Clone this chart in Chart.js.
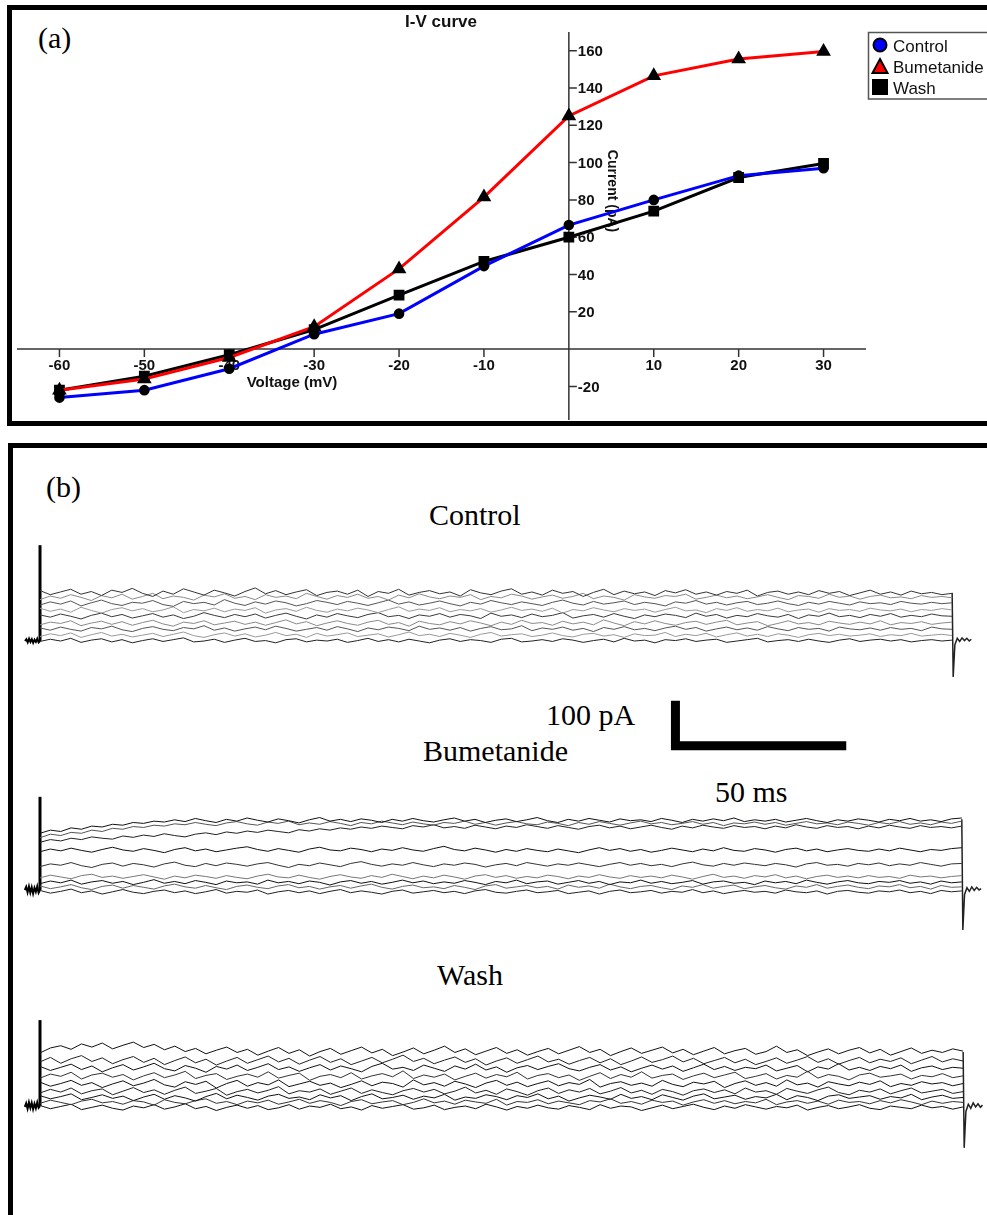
<!DOCTYPE html>
<html>
<head>
<meta charset="utf-8">
<script src="https://cdn.jsdelivr.net/npm/chart.js@4.4.3/dist/chart.umd.min.js"></script>
<style>
  html, body { margin: 0; padding: 0; background: #fff; overflow: hidden; }
  body { position: relative; width: 987px; height: 1215px; }
  .box { position: absolute; border: 5px solid #000; box-sizing: border-box; }
  .lbl { position: absolute; font-family: "Liberation Serif", "Times New Roman", serif; font-size: 30px; line-height: 30px; color: #000; white-space: nowrap; }
  canvas { position: absolute; }
</style>
</head>
<body>
<div class="box" style="left:7px;top:5px;width:1000px;height:421px"></div>
<div class="box" style="left:8px;top:443px;width:1000px;height:800px"></div>

<div class="lbl" style="left:38px;top:23px">(a)</div>
<div class="lbl" style="left:46px;top:472px">(b)</div>
<div class="lbl" style="left:429px;top:500px">Control</div>
<div class="lbl" style="left:546px;top:700px">100 pA</div>
<div class="lbl" style="left:423px;top:736px">Bumetanide</div>
<div class="lbl" style="left:715px;top:777px">50 ms</div>
<div class="lbl" style="left:437px;top:960px">Wash</div>

<canvas id="ivChart" width="987" height="430" style="left:0;top:0"></canvas>
<canvas id="controlTrace" width="975" height="230" style="left:12px;top:530px"></canvas>
<canvas id="bumetTrace" width="975" height="170" style="left:12px;top:780px"></canvas>
<canvas id="washTrace" width="975" height="175" style="left:12px;top:1000px"></canvas>

<script>
// ---- (a) I-V curve ----
const voltages = [-60, -50, -40, -30, -20, -10, 0, 10, 20, 30];
const controlCurrent = [-26, -22, -10.5, 8, 19, 44.5, 66.5, 80, 93, 97];
const bumetanideCurrent = [-22, -16, -4.5, 12, 43, 81.5, 125, 146.5, 155.5, 159.5];
const washCurrent = [-22, -14.5, -3, 10.5, 29, 47, 60, 74, 92, 99.5];
const voltageTickLabels = [-60, -50, -40, -30, -20, -10, 10, 20, 30];
const currentTickLabels = [-20, 20, 40, 60, 80, 100, 120, 140, 160];

// ---- (b) current traces (pA above holding level, sampled every 3 ms) ----
const sampleTimesMs = [
  0,3,6,9,12,15,18,21,24,27,
  30,33,36,39,42,45,48,51,54,57,
  60,63,66,69,72,75,78,81,84,87,
  90,93,96,99,102,105,108,111,114,117,
  120,123,126,129,132,135,138,141,144,147,
  150,153,156,159,162,165,168,171,174,177,
  180,183,186,189,192,195,198,201,204,207,
  210,213,216,219,222,225,228,231,234,237,
  240,243,246,249,252,255,258,261,264,267];
const stubTimesMs = [-4.4, -4, -3.6, -3.2, -2.8, -2.4, -2, -1.6, -1.2, -0.8, -0.4, 0];
const tailTimesMs = [267, 267.3, 267.8, 268.5, 269.2, 269.9, 270.6, 271.3, 272, 272.6];

const controlTraces = [
  [112,103,109,115,104,110,101,113,108,117,
   106,99,111,104,116,109,102,113,107,100,
   110,118,105,112,103,109,114,101,108,111,
   104,113,99,110,106,115,102,108,112,105,
   109,100,114,107,103,111,116,104,109,102,
   113,106,110,99,108,115,103,111,105,109,
   101,112,107,114,104,109,102,110,106,113,
   100,108,111,104,109,103,112,106,110,101,
   107,113,104,109,102,111,105,108,103,106],
  [92,100,95,103,97,90,101,96,104,93,
   99,106,94,100,97,91,102,98,105,95,
   99,92,103,97,100,94,106,99,93,101,
   97,104,95,99,91,102,96,105,98,94,
   100,97,103,92,99,96,104,100,93,98,
   102,95,99,106,94,100,97,91,103,98,
   95,101,99,104,93,97,102,96,100,94,
   98,103,97,92,101,99,95,104,97,100,
   93,99,102,96,98,94,101,97,99,96],
  [80,87,82,89,78,85,91,83,79,86,
   84,90,81,77,88,83,86,80,92,84,
   79,87,82,89,85,78,83,90,86,81,
   88,84,79,85,91,82,87,80,84,89,
   83,78,86,82,90,85,81,87,83,79,
   86,91,84,80,88,82,85,89,81,86,
   83,78,87,84,90,82,86,80,85,88,
   81,84,89,83,79,86,82,88,84,80,
   87,83,85,81,88,84,82,86,83,85],
  [73,66,71,64,75,68,62,70,74,67,
   72,65,69,76,63,70,67,73,65,71,
   68,74,62,69,72,66,75,68,64,71,
   67,73,69,63,70,76,66,71,68,74,
   65,70,67,72,64,69,75,68,71,66,
   73,62,70,67,74,69,65,72,68,71,
   64,70,75,67,69,63,72,68,74,66,
   70,67,73,65,69,71,64,72,68,70,
   66,73,69,67,71,65,70,68,72,69],
  [58,53,60,55,49,57,62,54,59,51,
   56,61,53,58,50,55,63,57,52,59,
   54,60,51,57,62,55,49,58,53,61,
   56,52,59,63,54,57,50,58,55,61,
   53,59,56,50,62,55,58,52,60,54,
   57,63,51,56,59,53,61,55,50,58,
   54,60,57,52,62,55,59,51,57,54,
   61,56,53,59,50,58,55,62,54,57,
   52,59,55,61,53,57,54,60,56,55],
  [36,42,39,45,34,40,44,37,43,35,
   41,46,38,33,42,39,45,36,40,44,
   37,42,35,41,47,38,43,34,40,45,
   39,35,42,46,37,41,33,44,39,36,
   43,38,45,40,34,42,37,46,39,41,
   35,44,38,42,36,47,40,34,43,38,
   45,39,35,41,44,37,42,46,36,40,
   43,34,39,45,38,41,36,44,40,37,
   42,38,45,36,41,39,43,37,40,42],
  [29,24,31,26,22,30,27,33,25,21,
   28,32,26,23,30,27,34,24,29,22,
   27,31,25,33,28,22,26,30,24,32,
   27,21,29,25,31,28,23,33,26,29,
   24,30,22,28,32,25,27,34,23,29,
   26,31,24,28,21,30,26,32,25,28,
   23,29,33,26,30,22,27,31,25,29,
   24,32,27,23,30,26,28,22,31,27,
   25,29,24,30,26,28,23,31,27,26],
  [10,16,12,18,8,14,19,11,15,9,
   13,17,10,15,20,12,8,14,18,11,
   16,9,13,19,12,15,8,17,11,14,
   18,10,13,16,9,14,20,12,15,10,
   17,13,8,15,19,11,14,16,10,13,
   18,12,9,15,17,11,14,8,16,12,
   13,19,10,15,12,17,9,14,18,11,
   15,10,16,13,8,14,17,12,15,11,
   13,16,10,14,12,17,11,13,15,12],
  [-1,4,0,6,-3,2,5,-2,3,-4,
   1,5,-1,3,7,-2,0,4,-3,2,
   6,-1,1,-4,3,5,-2,2,0,4,
   -3,1,6,-1,3,-2,4,0,-4,2,
   5,-1,3,1,-3,4,6,-2,0,3,
   -1,5,2,-3,1,4,-2,6,0,2,
   -4,3,1,5,-1,2,4,-3,0,3,
   6,-2,1,3,-1,4,0,-3,2,5,
   -1,2,4,0,3,-2,1,3,0,2]
];

const bumetTraces = [
  [126,133,130,138,135,142,140,146,144,150,
   148,153,151,156,152,159,154,150,157,153,
   160,155,151,158,154,149,156,161,153,157,
   152,158,155,150,157,153,159,154,151,156,
   160,153,157,150,155,158,152,156,161,154,
   150,157,153,159,155,151,158,154,156,152,
   159,155,150,157,153,158,154,160,152,156,
   153,157,151,155,159,154,150,156,153,158,
   155,151,157,154,159,153,156,152,158,160],
  [116,124,121,128,126,133,130,137,135,141,
   139,144,142,147,145,150,146,143,149,152,
   147,144,151,148,153,145,149,146,152,148,
   143,150,147,153,149,145,151,147,144,150,
   148,153,146,150,144,149,152,147,145,151,
   148,143,150,146,152,148,144,149,153,147,
   150,145,148,152,146,150,143,149,147,151,
   146,150,144,148,152,147,149,145,151,148,
   144,150,147,152,146,149,145,151,148,153],
  [106,112,109,115,112,118,115,113,120,117,
   122,119,125,121,118,124,127,123,129,126,
   131,128,133,130,127,134,131,136,133,138,
   135,140,137,142,139,136,143,140,145,138,
   141,137,144,140,136,142,139,145,141,137,
   143,139,135,141,144,138,142,136,140,144,
   139,135,142,138,144,140,137,143,139,141,
   136,142,138,145,140,137,143,139,141,136,
   142,138,144,140,137,143,139,141,138,142],
  [85,91,87,93,88,84,90,95,89,86,
   92,88,83,90,94,87,91,85,89,93,
   96,90,86,92,88,84,91,95,89,87,
   93,90,85,91,88,94,89,86,92,97,
   90,87,93,89,84,90,86,92,88,85,
   91,87,83,89,94,88,92,86,90,84,
   88,93,89,85,91,87,94,88,86,92,
   89,84,90,93,87,91,85,89,92,88,
   86,91,87,93,89,85,90,88,92,94],
  [52,58,55,61,54,50,57,60,53,59,
   56,51,58,62,55,52,59,54,60,57,
   53,58,61,55,50,57,54,60,56,52,
   59,63,57,53,58,55,61,56,52,58,
   55,60,57,51,56,59,54,61,57,53,
   58,55,60,56,52,57,61,55,59,54,
   57,52,58,62,56,53,59,55,60,57,
   54,59,56,51,58,61,55,57,53,59,
   56,60,54,58,55,61,57,53,58,59],
  [27,33,29,25,32,35,28,31,26,30,
   34,29,24,31,27,33,30,26,32,28,
   25,31,35,29,27,33,28,24,30,34,
   29,26,32,28,35,30,25,31,27,33,
   29,24,31,34,28,32,26,30,27,33,
   30,25,31,28,34,29,26,32,28,31,
   27,33,29,24,30,35,28,31,26,32,
   29,34,27,31,25,30,33,28,31,27,
   32,28,30,26,33,29,31,27,30,32],
  [14,20,16,22,13,18,21,15,19,12,
   17,23,15,19,14,21,17,12,20,16,
   18,13,22,16,19,14,20,17,11,18,
   21,15,19,13,17,22,16,20,14,18,
   15,21,17,12,19,16,22,14,18,20,
   13,17,21,15,19,12,18,16,22,15,
   19,14,17,21,13,18,20,15,17,12,
   20,16,19,14,22,17,13,18,21,16,
   14,19,17,21,15,18,13,20,16,18],
  [9,3,7,12,5,1,8,11,4,10,
   6,2,9,13,7,4,10,5,1,8,
   11,6,3,9,12,5,8,2,7,10,
   4,9,13,6,2,8,11,5,7,3,
   10,6,1,9,12,4,7,10,5,8,
   2,11,6,9,4,13,7,3,8,10,
   5,1,9,6,12,4,8,11,3,7,
   10,5,2,9,6,12,4,8,11,6,
   3,9,7,12,5,8,2,10,6,7],
  [-1,-7,-3,2,-6,-2,-9,-4,1,-5,
   -8,-3,0,-6,-2,-8,-4,1,-7,-3,
   -5,0,-9,-4,-1,-6,-2,-8,-3,1,
   -6,-2,-5,-9,-3,0,-7,-4,-1,-6,
   -3,-8,-2,1,-5,-7,-3,0,-6,-4,
   -1,-8,-5,-2,-9,-3,0,-6,-4,-1,
   -7,-3,-5,1,-6,-2,-8,-4,-1,-5,
   -3,-7,0,-4,-6,-2,-9,-3,-1,-5,
   -7,-2,-4,0,-6,-3,-8,-1,-4,-2]
];

const washTraces = [
  [118,129,134,126,138,131,140,127,135,142,
   130,137,125,133,121,128,116,124,131,119,
   126,113,122,130,117,125,111,121,128,115,
   123,131,118,126,112,120,129,116,124,133,
   119,127,114,122,130,117,125,113,121,128,
   116,124,132,119,126,112,121,129,117,124,
   131,118,126,114,122,130,116,123,128,115,
   121,133,119,125,112,120,127,116,124,130,
   118,126,113,121,129,117,124,119,127,122],
  [98,108,95,105,112,99,107,94,103,110,
   97,106,92,101,109,96,104,91,100,108,
   95,103,111,98,106,93,102,110,97,105,
   92,100,108,96,104,113,99,106,94,102,
   109,97,105,91,100,107,95,103,111,98,
   104,93,101,108,96,105,92,100,109,97,
   103,111,98,106,94,101,108,96,104,92,
   99,107,95,102,110,97,105,93,101,108,
   96,104,99,107,94,102,110,98,105,100],
  [88,79,86,93,81,89,76,85,92,80,
   87,95,83,78,90,84,75,88,82,91,
   79,86,94,81,87,77,85,92,80,89,
   83,76,88,95,82,86,79,91,84,77,
   89,82,93,80,87,75,85,90,81,88,
   94,83,78,86,92,80,87,76,84,91,
   82,89,77,85,93,81,88,79,86,83,
   91,78,84,90,76,87,82,94,80,86,
   79,88,83,91,77,85,89,81,86,84],
  [62,71,66,75,60,69,73,64,70,58,
   67,74,63,69,77,61,68,72,59,66,
   71,64,76,62,68,73,57,66,70,63,
   74,60,67,72,65,78,61,69,64,71,
   58,66,73,62,70,65,75,60,68,72,
   63,69,57,66,74,61,70,64,76,62,
   68,71,59,67,73,63,69,75,61,66,
   72,60,68,64,77,62,70,66,58,69,
   73,64,67,71,60,68,65,72,63,67],
  [53,44,50,57,46,52,41,49,56,45,
   51,59,47,42,54,48,55,40,50,57,
   44,52,47,58,43,49,55,46,51,41,
   48,56,45,53,50,42,58,47,52,44,
   55,49,41,51,57,46,53,43,50,56,
   45,52,48,59,42,50,54,46,51,44,
   57,48,43,53,49,55,41,50,56,46,
   52,44,58,47,51,42,54,49,45,53,
   48,56,43,50,46,54,49,52,45,50],
  [29,37,31,40,27,34,38,25,33,41,
   30,36,26,35,42,28,33,39,24,32,
   37,29,35,43,27,34,31,38,26,33,
   40,28,36,30,25,34,39,31,37,27,
   33,42,29,35,26,38,32,24,34,40,
   28,36,31,39,27,33,41,29,35,26,
   37,32,24,34,38,30,36,27,40,31,
   34,26,39,33,28,36,42,30,25,35,
   31,38,27,34,40,29,33,37,28,32],
  [23,16,21,27,14,19,25,17,22,12,
   20,26,15,23,18,11,21,28,16,24,
   19,13,22,26,17,20,14,25,18,23,
   12,21,27,16,19,24,15,22,18,26,
   13,20,17,25,21,14,23,19,27,16,
   22,11,18,24,20,15,26,17,21,14,
   25,19,13,22,27,16,20,24,15,21,
   18,26,14,23,19,12,22,25,17,20,
   23,15,21,18,26,14,20,24,17,19],
  [6,13,8,3,11,15,7,10,4,12,
   9,2,14,8,5,12,16,6,10,3,
   11,7,13,4,9,15,6,12,8,1,
   10,14,5,9,12,3,8,16,7,11,
   4,13,9,6,15,2,10,8,14,5,
   11,7,3,12,9,16,6,10,4,13,
   8,11,2,9,14,6,12,5,10,7,
   15,3,9,12,6,11,4,13,8,10,
   5,12,7,14,9,3,11,6,10,8],
  [1,-6,-1,4,-8,-3,2,-5,-9,0,
   -4,3,-7,-2,5,-6,-1,-10,-3,2,
   -5,1,-8,-4,3,-7,0,-3,4,-6,
   -2,-9,1,-5,-1,3,-7,-4,2,-8,
   -3,0,-6,4,-2,-9,-1,-5,2,-4,
   -7,1,-3,-8,3,-5,0,-2,-10,-4,
   2,-6,-1,4,-3,-8,0,-5,3,-2,
   -7,-1,-4,2,-9,-3,1,-6,-2,3,
   -5,-8,0,-3,-6,2,-4,-1,-7,-2]
];

// holding-level stub before the step, capacitive spike, end-of-step tail
const controlStub = [0, 4, -3, 5, -2, 4, -4, 3, -2, 5, -3, 0];
const bumetStub = [0, 7, -5, 8, -6, 6, -8, 5, -4, 8, -6, 0];
const washStub = [-2, 6, -6, 8, -4, 7, -7, 5, -5, 8, -4, 0];
const controlSpikePeak = 213;
const bumetSpikePeak = 207;
const washSpikePeak = 191;
const controlTail = [107, -80, -8, 6, -1, 7, 1, 6, 0, 4];
const bumetTail = [157, -89, -10, 5, -3, 7, -1, 6, 0, 3];
const washTail = [120, -93, -12, 4, -5, 7, -2, 5, -3, 2];

// calibration bar
const scaleBarMs = 50;
const scaleBarPa = 100;

const controlColors = ['#333', '#8a8a8a', '#555', '#999', '#3a3a3a', '#8a8a8a', '#555', '#999', '#222'];
const bumetColors = ['#111', '#555', '#222', '#111', '#333', '#777', '#111', '#666', '#222'];
const washColors = ['#111', '#222', '#111', '#333', '#111', '#222', '#111', '#333', '#111'];

function pairs(xs, ys) {
  return ys.map((v, i) => ({ x: xs[i], y: v }));
}

const SANS = '"Liberation Sans", Arial, sans-serif';

const ivDecor = {
  id: 'ivDecor',
  beforeDatasetsDraw(chart) {
    const { ctx, scales: { x, y } } = chart;
    const x0 = x.getPixelForValue(0);
    const y0 = y.getPixelForValue(0);
    ctx.save();
    ctx.strokeStyle = '#333';
    ctx.lineWidth = 1.5;
    ctx.beginPath();
    ctx.moveTo(x.left, y0); ctx.lineTo(x.right, y0);
    ctx.moveTo(x0, y.top); ctx.lineTo(x0, y.bottom);
    voltageTickLabels.forEach(v => {
      const px = x.getPixelForValue(v);
      ctx.moveTo(px, y0); ctx.lineTo(px, y0 + 8);
    });
    currentTickLabels.forEach(v => {
      const py = y.getPixelForValue(v);
      ctx.moveTo(x0, py); ctx.lineTo(x0 + 8, py);
    });
    ctx.stroke();

    ctx.fillStyle = '#111';
    ctx.font = 'bold 15px ' + SANS;
    ctx.textAlign = 'center';
    ctx.textBaseline = 'alphabetic';
    voltageTickLabels.forEach(v => ctx.fillText(String(v), x.getPixelForValue(v), y0 + 21));
    ctx.textAlign = 'left';
    ctx.textBaseline = 'middle';
    currentTickLabels.forEach(v => ctx.fillText(String(v), x0 + 9, y.getPixelForValue(v) + 1));

    ctx.textAlign = 'center';
    ctx.textBaseline = 'alphabetic';
    ctx.fillText('Voltage (mV)', 292, y0 + 38);
    ctx.font = 'bold 17px ' + SANS;
    ctx.fillText('I-V curve', 441, 27);

    ctx.save();
    ctx.translate(x0 + 43, 191);
    ctx.rotate(Math.PI / 2);
    ctx.font = 'bold 14px ' + SANS;
    ctx.textBaseline = 'middle';
    ctx.fillText('Current (pA)', 0, 0);
    ctx.restore();
    ctx.restore();
  },
  afterDraw(chart) {
    const { ctx } = chart;
    ctx.save();
    ctx.strokeStyle = '#555';
    ctx.lineWidth = 1.5;
    ctx.strokeRect(868.5, 32.5, 140, 66.5);
    ctx.font = '17px ' + SANS;
    ctx.textAlign = 'left';
    ctx.textBaseline = 'alphabetic';
    chart.data.datasets.forEach((ds, i) => {
      const cy = 45 + i * 21;
      ctx.fillStyle = ds.legendFill;
      ctx.strokeStyle = '#000';
      ctx.lineWidth = 2;
      ctx.beginPath();
      if (ds.pointStyle === 'circle') {
        ctx.arc(880, cy, 6.5, 0, Math.PI * 2);
      } else if (ds.pointStyle === 'triangle') {
        ctx.moveTo(880, cy - 7); ctx.lineTo(887.5, cy + 7); ctx.lineTo(872.5, cy + 7); ctx.closePath();
      } else {
        ctx.rect(873, cy - 7, 14, 14);
      }
      ctx.fill(); ctx.stroke();
      ctx.fillStyle = '#111';
      ctx.fillText(ds.label, 893, cy + 6.5);
    });
    ctx.restore();
  }
};

new Chart(document.getElementById('ivChart'), {
  type: 'line',
  data: {
    datasets: [
      { label: 'Control', data: pairs(voltages, controlCurrent), borderColor: '#0000ff', borderWidth: 3,
        pointStyle: 'circle', pointRadius: 3.8, pointBackgroundColor: '#000', pointBorderColor: '#000', legendFill: '#0000ff' },
      { label: 'Bumetanide', data: pairs(voltages, bumetanideCurrent), borderColor: '#ff0000', borderWidth: 3,
        pointStyle: 'triangle', pointRadius: 5.5, pointBackgroundColor: '#000', pointBorderColor: '#000', legendFill: '#ff0000' },
      { label: 'Wash', data: pairs(voltages, washCurrent), borderColor: '#000', borderWidth: 3,
        pointStyle: 'rect', pointRadius: 5.5, pointBackgroundColor: '#000', pointBorderColor: '#000', legendFill: '#000' }
    ]
  },
  options: {
    responsive: false,
    animation: false,
    events: [],
    layout: { padding: { left: 17, top: 32, right: 121, bottom: 10 } },
    elements: { line: { tension: 0 } },
    scales: {
      x: { type: 'linear', min: -65, max: 35, display: false },
      y: { type: 'linear', min: -38, max: 170, display: false }
    },
    plugins: { legend: { display: false }, tooltip: { enabled: false } }
  },
  plugins: [ivDecor]
});

function traceChart(id, traces, colors, stub, spikePeak, tail, xRange, yRange, extra) {
  const datasets = traces.map((vals, i) => ({
    data: pairs(sampleTimesMs, vals), borderColor: colors[i], borderWidth: 1
  }));
  datasets.push({ data: pairs(stubTimesMs, stub), borderColor: '#000', borderWidth: 2 });
  datasets.push({ data: [{ x: 0, y: 0 }, { x: 0, y: spikePeak }], borderColor: '#000', borderWidth: 3 });
  datasets.push({ data: pairs(tailTimesMs, tail), borderColor: '#222', borderWidth: 1.5 });
  (extra || []).forEach(d => datasets.push(d));
  return new Chart(document.getElementById(id), {
    type: 'line',
    data: { datasets },
    options: {
      responsive: false,
      animation: false,
      events: [],
      layout: { padding: 0 },
      elements: { point: { radius: 0 }, line: { tension: 0, borderJoinStyle: 'miter' } },
      scales: {
        x: { type: 'linear', min: xRange[0], max: xRange[1], display: false },
        y: { type: 'linear', min: yRange[0], max: yRange[1], display: false }
      },
      plugins: { legend: { display: false }, tooltip: { enabled: false } }
    }
  });
}

// calibration bar drawn in the control panel's axes
const barCornerMs = 186;
const barCornerPa = -233;
const scaleBar = {
  data: [
    { x: barCornerMs, y: barCornerPa + scaleBarPa },
    { x: barCornerMs, y: barCornerPa },
    { x: barCornerMs + scaleBarMs, y: barCornerPa }
  ],
  borderColor: '#000', borderWidth: 9, borderCapStyle: 'butt', borderJoinStyle: 'miter'
};

traceChart('controlTrace', controlTraces, controlColors, controlStub, controlSpikePeak, controlTail,
  [-8.2, 277.2], [-264.4, 246.7], [scaleBar]);
traceChart('bumetTrace', bumetTraces, bumetColors, bumetStub, bumetSpikePeak, bumetTail,
  [-8.11, 274.3], [-133.3, 244.4]);
traceChart('washTrace', washTraces, washColors, washStub, washSpikePeak, washTail,
  [-8.1, 273.9], [-153.3, 235.6]);
</script>
</body>
</html>
